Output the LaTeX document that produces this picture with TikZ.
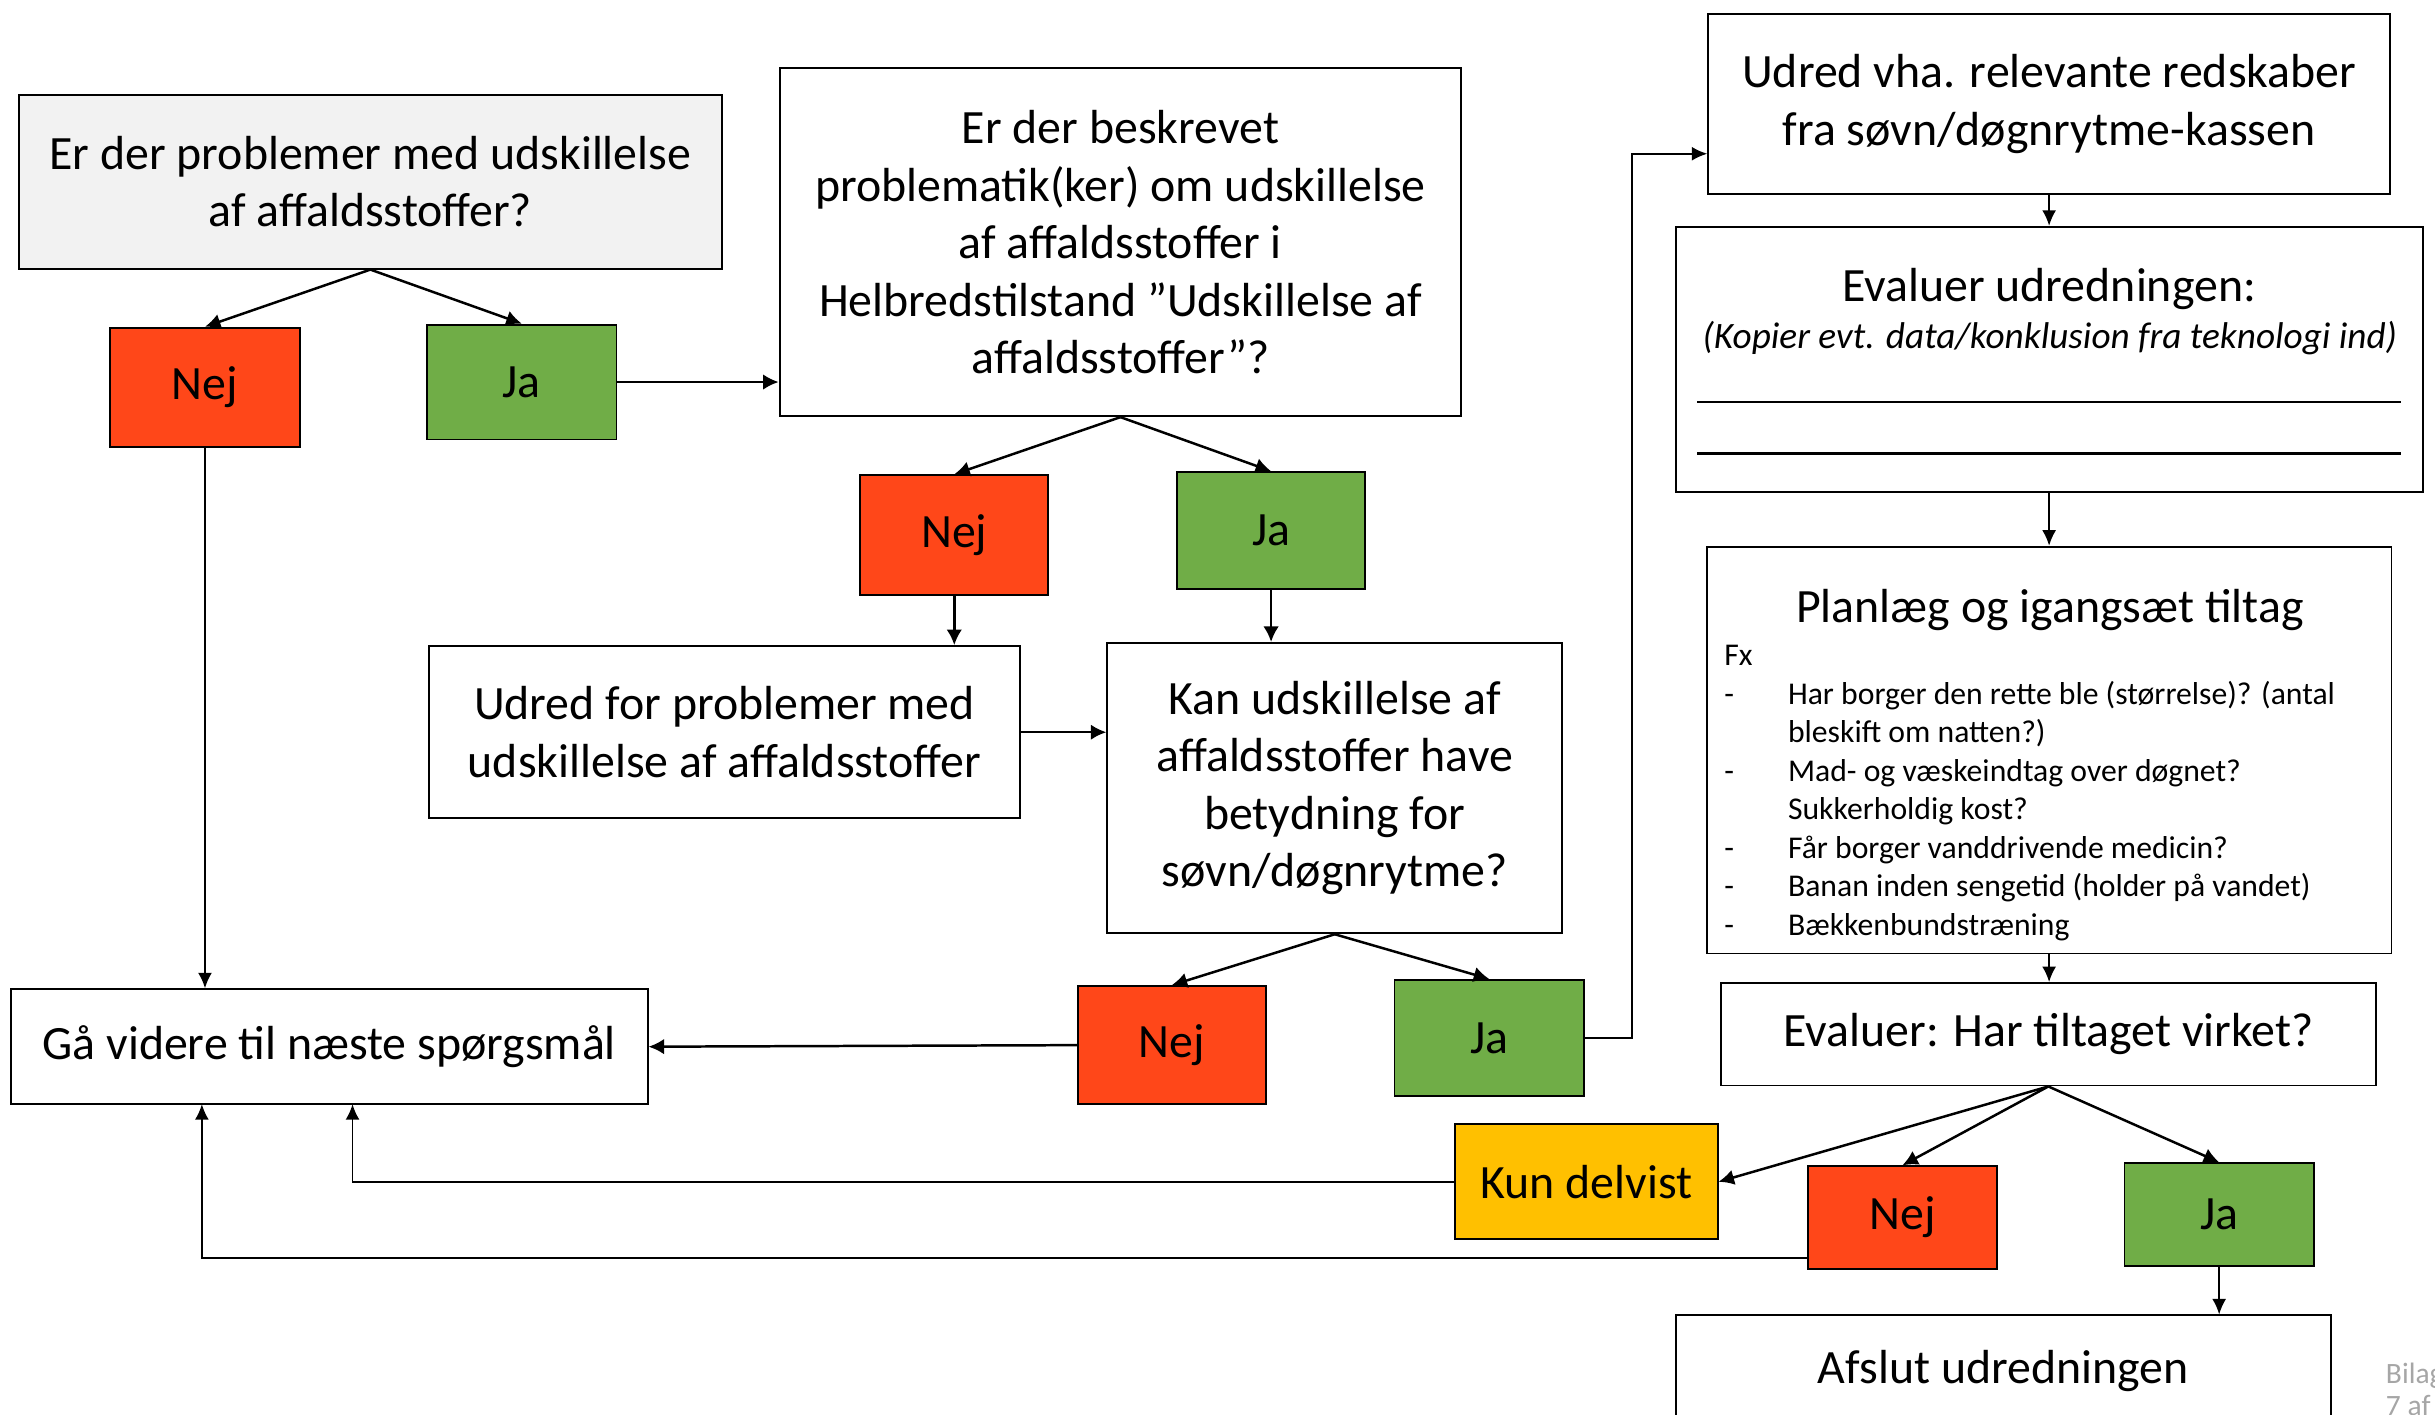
\documentclass[tikz,border=0pt]{standalone}
\usepackage{fontspec}
\setmainfont{Carlito}
\usetikzlibrary{arrows.meta}
\definecolor{nejred}{HTML}{FF4719}
\definecolor{jagreen}{HTML}{70AD47}
\definecolor{kunyellow}{HTML}{FFC000}
\definecolor{qgray}{HTML}{F2F2F2}
\definecolor{bilaggray}{HTML}{A6A6A6}
\begin{document}
\begin{tikzpicture}[x=0.5pt,y=-0.5pt,
  box/.style={draw, line width=0.6pt, inner sep=0pt, align=center, font=\fontsize{15.4}{18.5}\selectfont},
  nejbox/.style={box, fill=nejred, minimum width=61pt},
  jabox/.style={box, fill=jagreen, minimum width=61pt},
  conn/.style={line width=0.8pt, -{Latex[length=5pt,width=5pt]}},
  thinconn/.style={line width=0.6pt, -{Latex[length=5pt,width=4.5pt]}},
  plain/.style={line width=0.6pt}]
\useasboundingbox (0,0) rectangle (1568,911);
\clip (0,0) rectangle (1568,911);

% left column
\node[box, fill=qgray, minimum width=226.5pt, minimum height=56pt] (q1) at (238.5,117) {Er der problemer med udskillelse\\af affaldsstoffer?};
\node[nejbox, minimum height=38.5pt] (nej1) at (132,249.5) {Nej};
\node[jabox, minimum height=37pt] (ja1) at (336,246) {Ja};
\node[box, minimum width=219.5pt, minimum height=112pt] (q2) at (721.5,156) {Er der beskrevet\\problematik(ker) om udskillelse\\af affaldsstoffer i\\Helbredstilstand ”Udskillelse af\\affaldsstoffer”?};
\node[nejbox, minimum width=60.5pt, minimum height=38.5pt] (nej2) at (614.5,344.5) {Nej};
\node[jabox, minimum width=60.5pt, minimum height=37.5pt] (ja2) at (818.5,341.5) {Ja};
\node[box, minimum width=190.5pt, minimum height=55.5pt] (udred1) at (466.5,471.5) {Udred for problemer med\\udskillelse af affaldsstoffer};
\node[box, minimum width=146.5pt, minimum height=93.5pt] (q3) at (859.5,507.5) {Kan udskillelse af\\affaldsstoffer have\\betydning for\\søvn/døgnrytme?};
\node[box, minimum width=205pt, minimum height=37pt] (gaa) at (212,674) {Gå videre til næste spørgsmål};
\node[nejbox, minimum width=60.5pt, minimum height=38pt] (nej3) at (754.5,673) {Nej};
\node[jabox, minimum height=37.5pt] (ja3) at (959,668.5) {Ja};

% right column
\node[box, minimum width=219.5pt, minimum height=58pt] (udred2) at (1319.5,67) {Udred vha. relevante redskaber\\fra søvn/døgnrytme-kassen};
\node[box, minimum width=240.5pt, minimum height=85.5pt] (evalu) at (1319.5,231.5) {};
\node[inner sep=0pt, font=\fontsize{15.4}{18.5}\selectfont] (evalut) at (1319.5,186) {Evaluer udredningen:};
\node[inner sep=0pt, font=\fontsize{12}{14}\selectfont\itshape] (evalui) at (1320,218) {(Kopier evt. data/konklusion fra teknologi ind)};
\coordinate (l1a) at (1093,259); \coordinate (l1b) at (1546,259);
\coordinate (l2a) at (1093,292); \coordinate (l2b) at (1546,292);
\draw[line width=0.8pt] (l1a) -- (l1b);
\draw[line width=0.8pt] (l2a) -- (l2b);

\node[box, minimum width=220.5pt, minimum height=131pt] (plan) at (1319.5,483) {};
\node[inner sep=0pt, font=\fontsize{15.4}{18.5}\selectfont] (plant) at (1320,393) {Planlæg og igangsæt tiltag};
\node[inner sep=0pt, anchor=north west, align=left, font=\fontsize{10.2}{12.4}\selectfont] (planl) at (1110,411) {%
\begin{tabular}{@{}p{20.5pt}@{}l@{}}
\multicolumn{2}{@{}l@{}}{Fx}\\
- & Har borger den rette ble (størrelse)? (antal\\
  & bleskift om natten?)\\
- & Mad- og væskeindtag over døgnet?\\
  & Sukkerholdig kost?\\
- & Får borger vanddrivende medicin?\\
- & Banan inden sengetid (holder på vandet)\\
- & Bækkenbundstræning
\end{tabular}};

\node[box, minimum width=211pt, minimum height=33pt] (eval2) at (1319,666) {Evaluer: Har tiltaget virket?};
\node[box, fill=kunyellow, minimum width=84.5pt, minimum height=37pt] (kun) at (1021.5,761) {Kun delvist};
\node[nejbox, minimum height=33pt] (nej4) at (1225,784) {Nej};
\node[jabox, minimum height=33pt] (ja4) at (1429,782) {Ja};
\node[box, minimum width=211pt, minimum height=36pt] (afslut) at (1290,883) {Afslut udredningen};

\node[inner sep=0pt, anchor=north west, align=left, text=bilaggray, font=\fontsize{9.5}{10.5}\selectfont] (bilag) at (1536,877) {Bilag\\7 af};

% connectors
\draw[conn] (q1.south) -- (nej1.north);
\draw[conn] (q1.south) -- (ja1.north);
\draw[conn] (ja1.east) -- (ja1.east -| q2.west);
\draw[conn] (q2.south) -- (nej2.north);
\draw[conn] (q2.south) -- (ja2.north);
\draw[conn] (nej2.south) -- (nej2.south |- udred1.north);
\draw[conn] (ja2.south) -- (ja2.south |- q3.north);
\draw[conn] (udred1.east) -- (udred1.east -| q3.west);
\draw[conn] (q3.south) -- (nej3.north);
\draw[conn] (q3.south) -- (ja3.north);
\draw[conn] (nej3.west) -- (gaa.east);
\draw[thinconn] (nej1.south) -- (nej1.south |- gaa.north);

\coordinate (j3turn) at (1051,99);
\draw[thinconn] (ja3.east) -| (j3turn) -- (udred2.west |- j3turn);
\draw[thinconn] (udred2.south) -- (udred2.south |- evalu.north);
\draw[thinconn] (evalu.south) -- (evalu.south |- plan.north);
\draw[thinconn] (plan.south) -- (plan.south |- eval2.north);
\draw[conn] (eval2.south) -- (kun.east);
\draw[conn] (eval2.south) -- (nej4.north);
\draw[conn] (eval2.south) -- (ja4.north);
\draw[thinconn] (ja4.south) -- (ja4.south |- afslut.north);

\coordinate (gk) at (227,711);
\coordinate (gn) at (130,711);
\coordinate (n4out) at (1164,810);
\draw[thinconn] (kun.west) -| (gk);
\draw[thinconn] (n4out) -| (gn);
\end{tikzpicture}
\end{document}
